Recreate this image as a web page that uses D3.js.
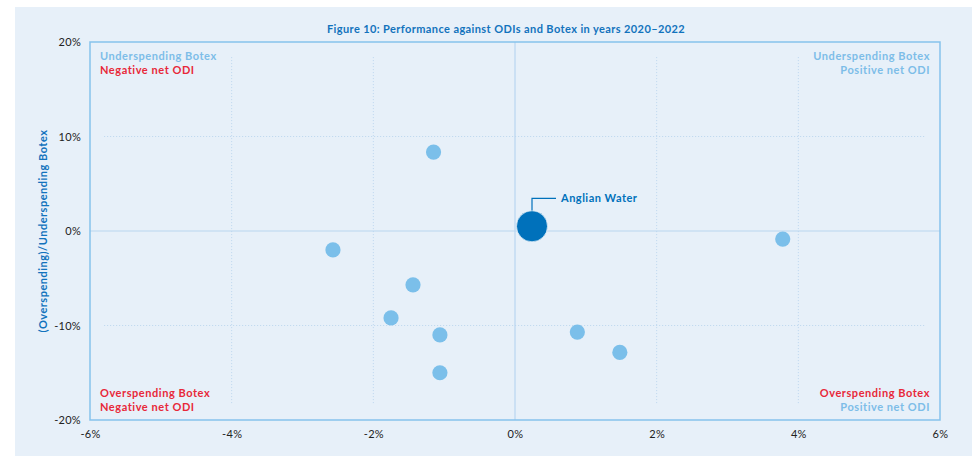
<!DOCTYPE html>
<html>
<head>
<meta charset="utf-8">
<script src="https://cdn.jsdelivr.net/npm/d3@7"></script>
<style>
  body { margin: 0; background: #fff; }
  svg text { font-family: "Lato", "Open Sans", sans-serif; }
</style>
</head>
<body>
<div id="chart"></div>
<script>
// ODI performance (x, %) vs Botex (under)/overspending (y, %)
var companies = ["Anglian Water", "Co A", "Co B", "Co C", "Co D", "Co E", "Co F", "Co G", "Co H", "Co I"];
var odiValues = [0.24, -1.15, -2.57, -1.44, -1.75, -1.06, -1.06, 0.88, 1.48, 3.78];
var botexValues = [0.5, 8.35, -2.0, -5.7, -9.2, -11.0, -15.0, -10.7, -12.85, -0.85];
var xTicks = [-6, -4, -2, 0, 2, 4, 6];
var yTicks = [-20, -10, 0, 10, 20];
var highlight = "Anglian Water";

var width = 972, height = 456;
var margin = { top: 42, right: 32, bottom: 36, left: 90 };

var svg = d3.select("#chart").append("svg")
    .attr("width", width)
    .attr("height", height);

// panel background
svg.append("rect")
    .attr("x", 15).attr("y", 7)
    .attr("width", width - 15).attr("height", height - 7)
    .attr("fill", "#e7f0f9");

var x = d3.scaleLinear().domain([-6, 6]).range([margin.left, width - margin.right]);
var y = d3.scaleLinear().domain([-20, 20]).range([height - margin.bottom, margin.top]);

var data = companies.map(function (c, i) {
    return { name: c, x: odiValues[i], y: botexValues[i] };
});

// dotted grid
svg.append("g").selectAll("line")
    .data(xTicks.filter(function (t) { return t !== 0 && Math.abs(t) !== 6; }))
    .enter().append("line")
    .attr("x1", d => x(d)).attr("x2", d => x(d))
    .attr("y1", y(18.4)).attr("y2", y(-18.4))
    .attr("stroke", "#bcd6ee").attr("stroke-width", 1)
    .attr("stroke-dasharray", "1,2");

svg.append("g").selectAll("line")
    .data(yTicks.filter(function (t) { return t !== 0 && Math.abs(t) !== 20; }))
    .enter().append("line")
    .attr("x1", x(-5.8)).attr("x2", x(5.8))
    .attr("y1", d => y(d)).attr("y2", d => y(d))
    .attr("stroke", "#bcd6ee").attr("stroke-width", 1)
    .attr("stroke-dasharray", "1,2");

// zero lines
svg.append("line")
    .attr("x1", x(-6)).attr("x2", x(6))
    .attr("y1", y(0)).attr("y2", y(0))
    .attr("stroke", "#b9d6f0").attr("stroke-width", 1.2);
svg.append("line")
    .attr("x1", x(0)).attr("x2", x(0))
    .attr("y1", y(20)).attr("y2", y(-20))
    .attr("stroke", "#b9d6f0").attr("stroke-width", 1.2);

// frame
svg.append("rect")
    .attr("x", x(-6)).attr("y", y(20))
    .attr("width", x(6) - x(-6)).attr("height", y(-20) - y(20))
    .attr("fill", "none")
    .attr("stroke", "#86c2ec").attr("stroke-width", 1.5);

// axes
var xAxis = svg.append("g")
    .attr("transform", "translate(0," + (height - margin.bottom) + ")")
    .call(d3.axisBottom(x).tickValues(xTicks).tickSize(0).tickPadding(10)
        .tickFormat(d => d + "%"));
xAxis.select(".domain").remove();
xAxis.selectAll("text").attr("font-size", 11).attr("fill", "#222").attr("letter-spacing", "0.3px");

var yAxis = svg.append("g")
    .attr("transform", "translate(" + margin.left + ",0)")
    .call(d3.axisLeft(y).tickValues(yTicks).tickSize(0).tickPadding(9)
        .tickFormat(d => d + "%"));
yAxis.select(".domain").remove();
yAxis.selectAll("text").attr("font-size", 11).attr("fill", "#222").attr("letter-spacing", "0.3px");

// y axis title
svg.append("text")
    .attr("transform", "translate(47," + y(0) + ") rotate(-90)")
    .attr("text-anchor", "middle")
    .attr("font-size", 11).attr("font-weight", "bold")
    .attr("letter-spacing", "0.5px")
    .attr("fill", "#1273bd")
    .text("(Overspending)/Underspending Botex");

// title
svg.append("text")
    .attr("x", 506).attr("y", 33)
    .attr("text-anchor", "middle")
    .attr("font-size", 11).attr("font-weight", "bold")
    .attr("letter-spacing", "0.4px")
    .attr("fill", "#1273bd")
    .text("Figure 10: Performance against ODIs and Botex in years 2020\u20132022");

// quadrant labels
var blueL = "#7dbde8", red = "#e8283a";
var quads = [
    { x: x(-6) + 10, y: y(20) + 18, anchor: "start", lines: [["Underspending Botex", blueL], ["Negative net ODI", red]] },
    { x: x(6) - 10, y: y(20) + 18, anchor: "end", lines: [["Underspending Botex", blueL], ["Positive net ODI", blueL]] },
    { x: x(-6) + 10, y: y(-20) - 23, anchor: "start", lines: [["Overspending Botex", red], ["Negative net ODI", red]] },
    { x: x(6) - 10, y: y(-20) - 23, anchor: "end", lines: [["Overspending Botex", red], ["Positive net ODI", blueL]] }
];
quads.forEach(function (q) {
    q.lines.forEach(function (l, i) {
        svg.append("text")
            .attr("x", q.x).attr("y", q.y + i * 14)
            .attr("text-anchor", q.anchor)
            .attr("font-size", 11).attr("font-weight", "bold")
            .attr("letter-spacing", "0.55px")
            .attr("fill", l[1])
            .text(l[0]);
    });
});

// points
svg.append("g").selectAll("circle")
    .data(data.filter(d => d.name !== highlight))
    .enter().append("circle")
    .attr("cx", d => x(d.x)).attr("cy", d => y(d.y))
    .attr("r", 7.6)
    .attr("fill", "#7bbfea");

var aw = data.filter(d => d.name === highlight)[0];
var ax = x(aw.x), ay = y(aw.y);
svg.append("path")
    .attr("d", "M" + ax + "," + (ay - 15) + "V" + (ay - 28) + "H" + (ax + 24))
    .attr("fill", "none")
    .attr("stroke", "#0071bb").attr("stroke-width", 1.2);
svg.append("circle")
    .attr("cx", ax).attr("cy", ay)
    .attr("r", 15.5)
    .attr("fill", "#0071bb")
    .attr("stroke", "#ffffff").attr("stroke-opacity", 0.6).attr("stroke-width", 1);
svg.append("text")
    .attr("x", ax + 29).attr("y", ay - 24)
    .attr("font-size", 11).attr("font-weight", "bold")
    .attr("letter-spacing", "0.5px")
    .attr("fill", "#0071bb")
    .text(aw.name);
</script>
</body>
</html>
